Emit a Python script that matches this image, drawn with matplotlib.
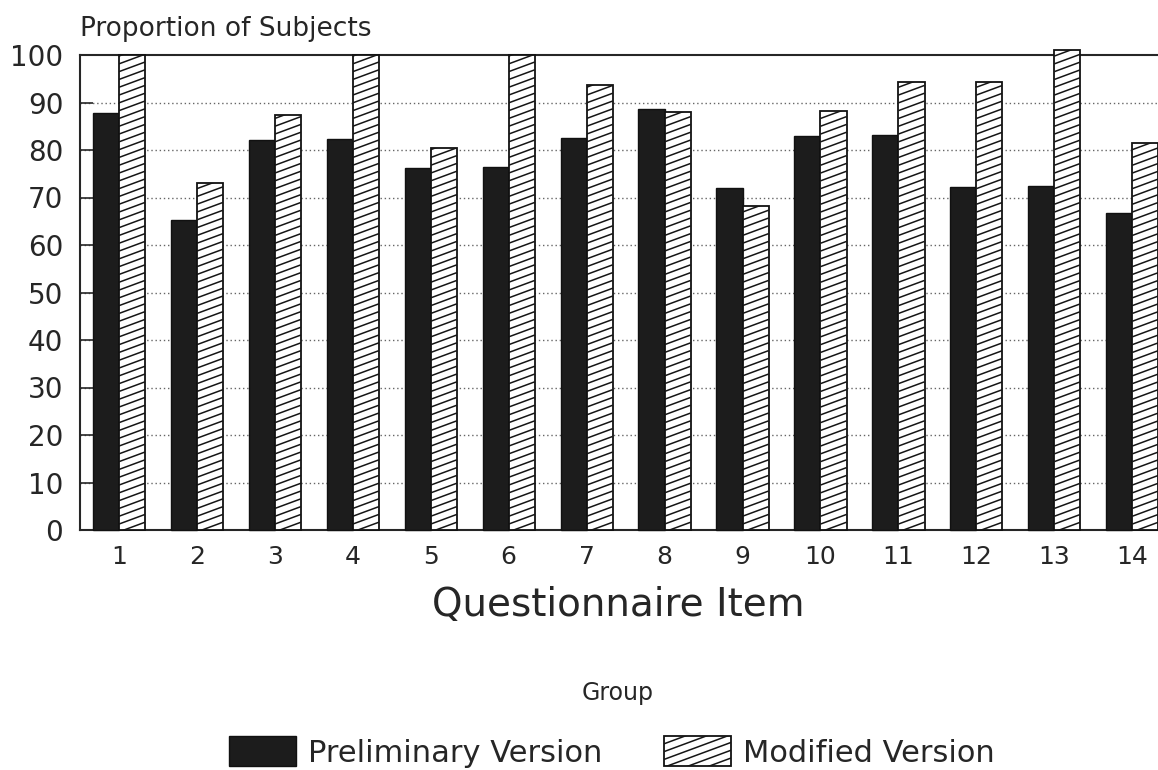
import matplotlib
matplotlib.use("Agg")
import matplotlib.pyplot as plt
from matplotlib.patches import Patch
from matplotlib.collections import LineCollection
from matplotlib.transforms import IdentityTransform
import numpy as np

items = [str(i) for i in range(1, 15)]
preliminary = [87.7, 65.3, 82.1, 82.3, 76.3, 76.4, 82.5, 88.6, 72.0, 82.9, 83.1, 72.3, 72.5, 66.7]
modified = [100, 73.1, 87.3, 100, 80.5, 100, 93.7, 88.0, 68.2, 88.3, 94.3, 94.4, 101, 81.5]
yticks = list(range(0, 101, 10))

plt.rcParams['font.family'] = ['DejaVu Sans']

W, H = 1158, 770
fig = plt.figure(figsize=(W / 100, H / 100), dpi=100)
ax = fig.add_axes([80 / W, 1 - 530 / H, 1 - 80 / W, 475 / H])

x = np.arange(1, len(items) + 1)
bw = 0.335
dark = '#1c1c1c'
ink = '#262626'
ax.bar(x - bw / 2, preliminary, width=bw, color=dark, edgecolor='#111111',
       linewidth=1.0, zorder=3, clip_on=False)
hatched = ax.bar(x + bw / 2, modified, width=bw, color='white', edgecolor='#111111',
                 linewidth=1.3, zorder=3, clip_on=False)

ax.set_xlim(0.5, 14.33)
ax.set_ylim(0, 100)
ax.set_yticks(yticks)
ax.set_yticklabels([str(t) for t in yticks], fontsize=20, color=ink)
ax.set_xticks(x)
ax.set_xticklabels(items, fontsize=18, color=ink)
ax.tick_params(axis='y', direction='in', length=9, width=1.2, pad=12, colors=ink)
ax.tick_params(axis='x', length=0, pad=11)

for yv in yticks[1:-1]:
    ax.axhline(yv, color='#666666', linestyle=(0, (1, 2)), linewidth=1.0, zorder=1)

for s in ['left', 'top', 'bottom']:
    ax.spines[s].set_linewidth(1.5)
    ax.spines[s].set_color(ink)
ax.spines['right'].set_visible(False)

fig.text(80 / W, 1 - 29 / H, 'Proportion of Subjects', fontsize=19, color=ink,
         ha='left', va='center')
fig.text(618 / W, 1 - 605 / H, 'Questionnaire Item', fontsize=28, color=ink,
         ha='center', va='center')
fig.text(618 / W, 1 - 693 / H, 'Group', fontsize=17, color=ink,
         ha='center', va='center')

handles = [Patch(facecolor=dark, edgecolor='#111111', label='Preliminary Version'),
           Patch(facecolor='white', edgecolor='#111111', linewidth=1.3, label='Modified Version')]
leg = fig.legend(handles=handles, loc='center', bbox_to_anchor=(612 / W, 1 - 752 / H),
                 ncol=2, frameon=False, fontsize=22, handlelength=2.2, handleheight=1.1,
                 columnspacing=2.0, handletextpad=0.4, labelcolor=ink)

fig.canvas.draw()

SLOPE = 0.37
SPACING = 7.8


def add_hatch(patch, zorder):
    bb = patch.get_window_extent()
    x0, x1, y0, y1 = bb.x0, bb.x1, bb.y0, bb.y1
    segs = []
    c = y0 - SLOPE * (x1 - x0) - SPACING
    while c < y1 + SPACING:
        segs.append([(x0, c), (x1, c + SLOPE * (x1 - x0))])
        c += SPACING
    lc = LineCollection(segs, colors='#151515', linewidths=1.1,
                        transform=IdentityTransform(), zorder=zorder)
    lc.set_clip_path(patch)
    fig.add_artist(lc)


for p in hatched.patches:
    add_hatch(p, 3.5)
add_hatch(leg.legend_handles[1], 10)

fig.savefig('out.png', dpi=100)
